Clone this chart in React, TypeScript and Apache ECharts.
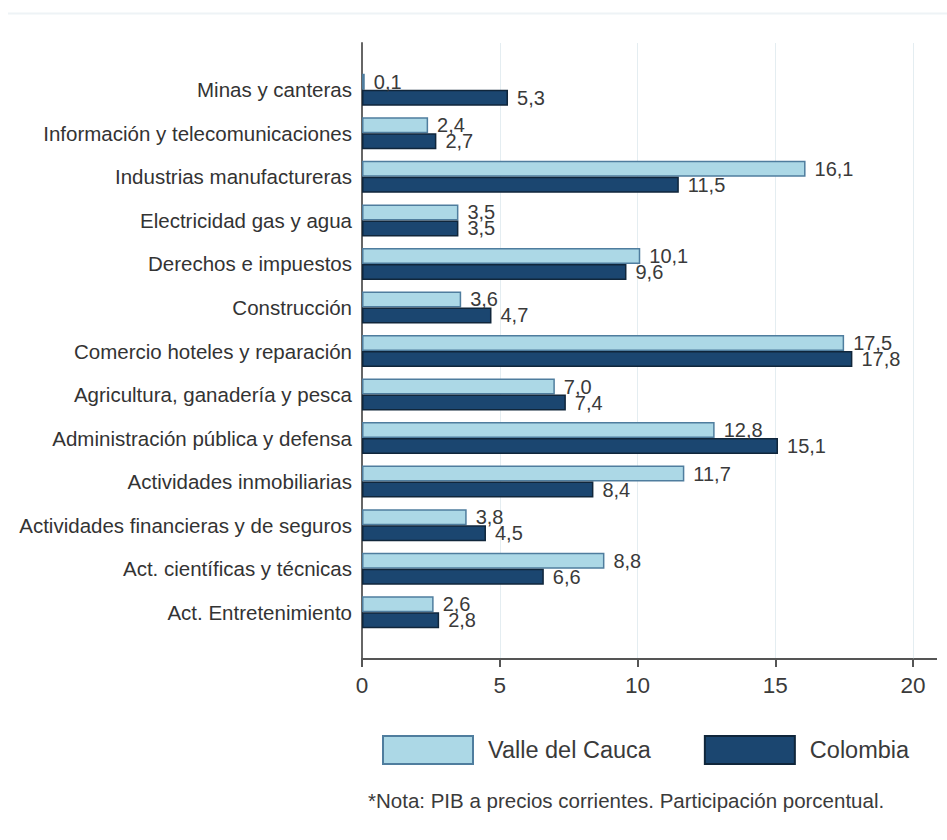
import React, { useEffect, useRef } from "react";
import * as echarts from "echarts";

const categories = [
  "Minas y canteras",
  "Información y telecomunicaciones",
  "Industrias manufactureras",
  "Electricidad gas y agua",
  "Derechos e impuestos",
  "Construcción",
  "Comercio hoteles y reparación",
  "Agricultura, ganadería y pesca",
  "Administración pública y defensa",
  "Actividades inmobiliarias",
  "Actividades financieras y de seguros",
  "Act. científicas y técnicas",
  "Act. Entretenimiento",
];
const valleValues = [0.1, 2.4, 16.1, 3.5, 10.1, 3.6, 17.5, 7.0, 12.8, 11.7, 3.8, 8.8, 2.6];
const colombiaValues = [5.3, 2.7, 11.5, 3.5, 9.6, 4.7, 17.8, 7.4, 15.1, 8.4, 4.5, 6.6, 2.8];
const seriesNames = ["Valle del Cauca", "Colombia"];
const xTicks = [0, 5, 10, 15, 20];
const noteText = "*Nota: PIB a precios corrientes. Participación porcentual.";

const FONT = "'Liberation Sans', Arial, sans-serif";

const fmt = (v: number) => v.toFixed(1).replace(".", ",");

export default function App() {
  const ref = useRef<HTMLDivElement>(null);
  useEffect(() => {
    if (!ref.current) return;
    const chart = echarts.init(ref.current, undefined, { renderer: "svg" });
    const labelCommon = {
      show: true,
      position: "right" as const,
      distance: 9,
      fontFamily: FONT,
      fontSize: 20,
      color: "#3a3a3a",
      formatter: (p: any) => fmt(p.value),
    };
    chart.setOption({
      animation: false,
      backgroundColor: "#ffffff",
      grid: [
        { left: 362, right: 34, top: 43, bottom: 181 },
        { left: 362, right: 34, top: 68, bottom: 206 },
      ],
      xAxis: [
        {
          type: "value",
          gridIndex: 0,
          min: xTicks[0],
          max: xTicks[xTicks.length - 1],
          interval: 5,
          axisLine: { show: true, lineStyle: { color: "#555", width: 2 } },
          axisTick: { show: true, length: 8, lineStyle: { color: "#555", width: 2 } },
          axisLabel: { fontFamily: FONT, fontSize: 22.5, color: "#3a3a3a", margin: 15 },
          splitLine: { show: true, lineStyle: { color: "#e4edf1", width: 1 } },
        },
        {
          type: "value",
          gridIndex: 1,
          min: xTicks[0],
          max: xTicks[xTicks.length - 1],
          show: false,
        },
      ],
      yAxis: [
        {
          type: "value",
          gridIndex: 0,
          min: 0,
          max: 1,
          axisLine: { show: true, lineStyle: { color: "#666", width: 2 } },
          axisTick: { show: false },
          axisLabel: { show: false },
          splitLine: { show: false },
        },
        {
          type: "category",
          gridIndex: 1,
          inverse: true,
          data: categories,
          axisLine: { show: false },
          axisTick: { show: false },
          axisLabel: { fontFamily: FONT, fontSize: 20.5, color: "#333", margin: 10 },
        },
      ],
      legend: {
        data: seriesNames,
        orient: "horizontal",
        left: 382,
        top: 735,
        width: 560,
        padding: 0,
        icon: "rect",
        itemWidth: 90,
        itemHeight: 28,
        itemGap: 53,
        textStyle: { fontFamily: FONT, fontSize: 23.5, color: "#3a3a3a", padding: [0, 0, 0, 10] },
      },
      series: [
        {
          name: seriesNames[0],
          type: "bar",
          xAxisIndex: 1,
          yAxisIndex: 1,
          data: valleValues,
          barWidth: 16,
          barGap: "0%",
          itemStyle: { color: "#acd8e6", borderColor: "#4f7d9e", borderWidth: 1.5 },
          label: labelCommon,
        },
        {
          name: seriesNames[1],
          type: "bar",
          xAxisIndex: 1,
          yAxisIndex: 1,
          data: colombiaValues,
          barWidth: 16,
          barGap: "0%",
          itemStyle: { color: "#1b4670", borderColor: "#10263b", borderWidth: 1.5 },
          label: labelCommon,
        },
      ],
      graphic: [
        {
          type: "line",
          shape: { x1: 8, y1: 13.5, x2: 947, y2: 13.5 },
          style: { stroke: "#eef3f6", lineWidth: 2 },
          silent: true,
        },
        {
          type: "line",
          shape: { x1: 912, y1: 659, x2: 937, y2: 659 },
          style: { stroke: "#555", lineWidth: 2 },
          silent: true,
        },
        {
          type: "text",
          left: 368,
          top: 790,
          style: { text: noteText, font: `20.5px ${FONT}`, fill: "#3a3a3a" },
          silent: true,
        },
      ],
    });
    return () => chart.dispose();
  }, []);
  return (
    <div
      ref={ref}
      style={{ position: "absolute", left: 0, top: 0, width: 947, height: 840 }}
    />
  );
}
